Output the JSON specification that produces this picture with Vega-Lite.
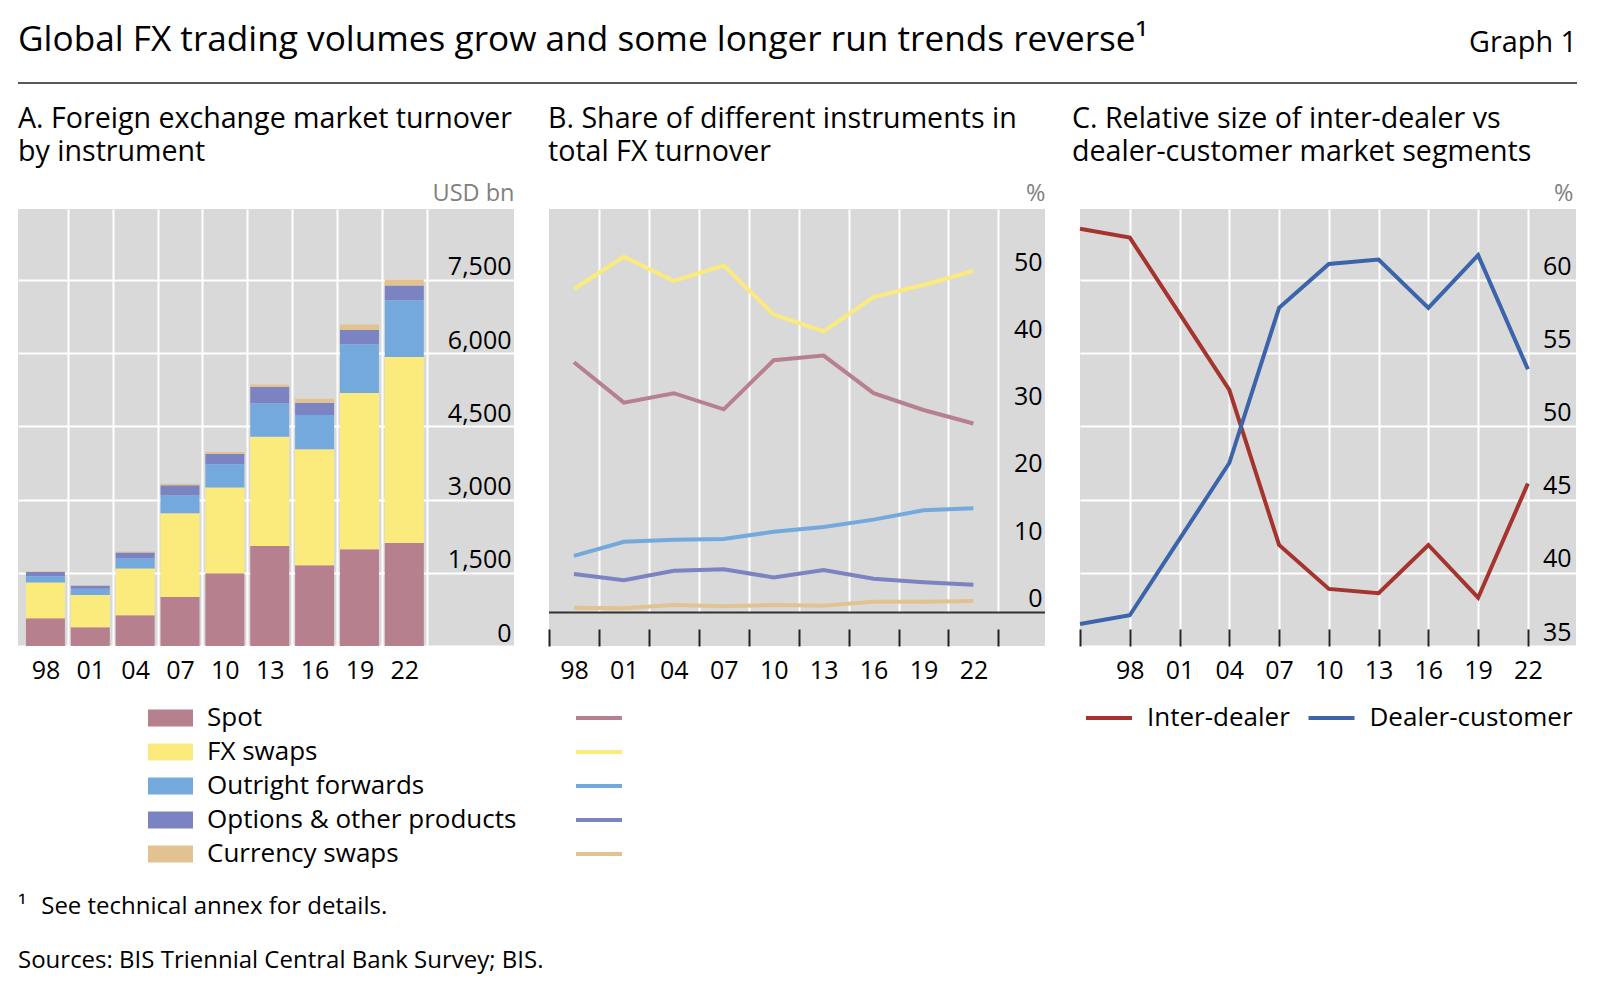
{
  "$schema": "https://vega.github.io/schema/vega-lite/v6.json",
  "background": "white",
  "padding": {"left": 18, "top": 23, "right": 10, "bottom": 0},
  "config": {
    "font": "Open Sans",
    "view": {"fill": "#d9d9d9", "stroke": null},
    "axis": {"labelFont": "Open Sans", "labelFontSize": 25, "labelColor": "#000", "titleFont": "Open Sans", "domain": false, "gridColor": "white", "gridWidth": 2, "gridOpacity": 1, "labelFlush": false, "labelOverlap": false, "labelBound": false},
    "title": {"font": "Open Sans", "fontWeight": "normal", "color": "#000", "anchor": "start"},
    "legend": {"labelFont": "Open Sans", "labelFontSize": 26, "labelColor": "#000", "labelLimit": 400}
  },
  "title": {"text": "Global FX trading volumes grow and some longer run trends reverse¹", "fontSize": 35.2, "offset": -29},
  "datasets": {
    "turnover": [
      {"year": 1998, "instrument": "Spot", "value": 568},
      {"year": 1998, "instrument": "FX swaps", "value": 734},
      {"year": 1998, "instrument": "Outright forwards", "value": 128},
      {"year": 1998, "instrument": "Options & other products", "value": 87},
      {"year": 1998, "instrument": "Currency swaps", "value": 10},
      {"year": 2001, "instrument": "Spot", "value": 386},
      {"year": 2001, "instrument": "FX swaps", "value": 656},
      {"year": 2001, "instrument": "Outright forwards", "value": 130},
      {"year": 2001, "instrument": "Options & other products", "value": 60},
      {"year": 2001, "instrument": "Currency swaps", "value": 7},
      {"year": 2004, "instrument": "Spot", "value": 631},
      {"year": 2004, "instrument": "FX swaps", "value": 954},
      {"year": 2004, "instrument": "Outright forwards", "value": 209},
      {"year": 2004, "instrument": "Options & other products", "value": 119},
      {"year": 2004, "instrument": "Currency swaps", "value": 21},
      {"year": 2007, "instrument": "Spot", "value": 1005},
      {"year": 2007, "instrument": "FX swaps", "value": 1714},
      {"year": 2007, "instrument": "Outright forwards", "value": 362},
      {"year": 2007, "instrument": "Options & other products", "value": 212},
      {"year": 2007, "instrument": "Currency swaps", "value": 31},
      {"year": 2010, "instrument": "Spot", "value": 1489},
      {"year": 2010, "instrument": "FX swaps", "value": 1759},
      {"year": 2010, "instrument": "Outright forwards", "value": 475},
      {"year": 2010, "instrument": "Options & other products", "value": 207},
      {"year": 2010, "instrument": "Currency swaps", "value": 43},
      {"year": 2013, "instrument": "Spot", "value": 2047},
      {"year": 2013, "instrument": "FX swaps", "value": 2240},
      {"year": 2013, "instrument": "Outright forwards", "value": 679},
      {"year": 2013, "instrument": "Options & other products", "value": 337},
      {"year": 2013, "instrument": "Currency swaps", "value": 54},
      {"year": 2016, "instrument": "Spot", "value": 1652},
      {"year": 2016, "instrument": "FX swaps", "value": 2378},
      {"year": 2016, "instrument": "Outright forwards", "value": 700},
      {"year": 2016, "instrument": "Options & other products", "value": 254},
      {"year": 2016, "instrument": "Currency swaps", "value": 82},
      {"year": 2019, "instrument": "Spot", "value": 1979},
      {"year": 2019, "instrument": "FX swaps", "value": 3202},
      {"year": 2019, "instrument": "Outright forwards", "value": 999},
      {"year": 2019, "instrument": "Options & other products", "value": 294},
      {"year": 2019, "instrument": "Currency swaps", "value": 108},
      {"year": 2022, "instrument": "Spot", "value": 2107},
      {"year": 2022, "instrument": "FX swaps", "value": 3810},
      {"year": 2022, "instrument": "Outright forwards", "value": 1163},
      {"year": 2022, "instrument": "Options & other products", "value": 304},
      {"year": 2022, "instrument": "Currency swaps", "value": 124}
    ],
    "shares": [
      {"year": 1998, "instrument": "Spot", "share": 37.2},
      {"year": 2001, "instrument": "Spot", "share": 31.2},
      {"year": 2004, "instrument": "Spot", "share": 32.6},
      {"year": 2007, "instrument": "Spot", "share": 30.2},
      {"year": 2010, "instrument": "Spot", "share": 37.5},
      {"year": 2013, "instrument": "Spot", "share": 38.2},
      {"year": 2016, "instrument": "Spot", "share": 32.6},
      {"year": 2019, "instrument": "Spot", "share": 30.1},
      {"year": 2022, "instrument": "Spot", "share": 28.1},
      {"year": 1998, "instrument": "FX swaps", "share": 48.1},
      {"year": 2001, "instrument": "FX swaps", "share": 52.9},
      {"year": 2004, "instrument": "FX swaps", "share": 49.3},
      {"year": 2007, "instrument": "FX swaps", "share": 51.6},
      {"year": 2010, "instrument": "FX swaps", "share": 44.3},
      {"year": 2013, "instrument": "FX swaps", "share": 41.8},
      {"year": 2016, "instrument": "FX swaps", "share": 46.9},
      {"year": 2019, "instrument": "FX swaps", "share": 48.7},
      {"year": 2022, "instrument": "FX swaps", "share": 50.8},
      {"year": 1998, "instrument": "Outright forwards", "share": 8.4},
      {"year": 2001, "instrument": "Outright forwards", "share": 10.5},
      {"year": 2004, "instrument": "Outright forwards", "share": 10.8},
      {"year": 2007, "instrument": "Outright forwards", "share": 10.9},
      {"year": 2010, "instrument": "Outright forwards", "share": 12.0},
      {"year": 2013, "instrument": "Outright forwards", "share": 12.7},
      {"year": 2016, "instrument": "Outright forwards", "share": 13.8},
      {"year": 2019, "instrument": "Outright forwards", "share": 15.2},
      {"year": 2022, "instrument": "Outright forwards", "share": 15.5},
      {"year": 1998, "instrument": "Options & other products", "share": 5.7},
      {"year": 2001, "instrument": "Options & other products", "share": 4.8},
      {"year": 2004, "instrument": "Options & other products", "share": 6.2},
      {"year": 2007, "instrument": "Options & other products", "share": 6.4},
      {"year": 2010, "instrument": "Options & other products", "share": 5.2},
      {"year": 2013, "instrument": "Options & other products", "share": 6.3},
      {"year": 2016, "instrument": "Options & other products", "share": 5.0},
      {"year": 2019, "instrument": "Options & other products", "share": 4.5},
      {"year": 2022, "instrument": "Options & other products", "share": 4.1},
      {"year": 1998, "instrument": "Currency swaps", "share": 0.7},
      {"year": 2001, "instrument": "Currency swaps", "share": 0.6},
      {"year": 2004, "instrument": "Currency swaps", "share": 1.1},
      {"year": 2007, "instrument": "Currency swaps", "share": 0.9},
      {"year": 2010, "instrument": "Currency swaps", "share": 1.1},
      {"year": 2013, "instrument": "Currency swaps", "share": 1.0},
      {"year": 2016, "instrument": "Currency swaps", "share": 1.6},
      {"year": 2019, "instrument": "Currency swaps", "share": 1.6},
      {"year": 2022, "instrument": "Currency swaps", "share": 1.7}
    ],
    "segments": [
      {"year": 1995, "segment": "Inter-dealer", "share": 63.5},
      {"year": 1998, "segment": "Inter-dealer", "share": 62.9},
      {"year": 2001, "segment": "Inter-dealer", "share": 57.7},
      {"year": 2004, "segment": "Inter-dealer", "share": 52.5},
      {"year": 2007, "segment": "Inter-dealer", "share": 41.9},
      {"year": 2010, "segment": "Inter-dealer", "share": 38.9},
      {"year": 2013, "segment": "Inter-dealer", "share": 38.6},
      {"year": 2016, "segment": "Inter-dealer", "share": 41.9},
      {"year": 2019, "segment": "Inter-dealer", "share": 38.3},
      {"year": 2022, "segment": "Inter-dealer", "share": 46.1},
      {"year": 1995, "segment": "Dealer-customer", "share": 36.5},
      {"year": 1998, "segment": "Dealer-customer", "share": 37.1},
      {"year": 2001, "segment": "Dealer-customer", "share": 42.3},
      {"year": 2004, "segment": "Dealer-customer", "share": 47.5},
      {"year": 2007, "segment": "Dealer-customer", "share": 58.1},
      {"year": 2010, "segment": "Dealer-customer", "share": 61.1},
      {"year": 2013, "segment": "Dealer-customer", "share": 61.4},
      {"year": 2016, "segment": "Dealer-customer", "share": 58.1},
      {"year": 2019, "segment": "Dealer-customer", "share": 61.7},
      {"year": 2022, "segment": "Dealer-customer", "share": 53.9}
    ]
  },
  "spacing": 21,
  "vconcat": [
    {
      "width": 1559, "height": 2,
      "view": {"fill": "#595959", "stroke": null},
      "title": {"text": "Graph 1", "anchor": "end", "fontSize": 28.8, "offset": 24},
      "data": {"values": []},
      "mark": "point",
      "encoding": {}
    },
    {
      "hconcat": [
        {
          "width": 496, "height": 437,
          "title": {"text": ["A. Foreign exchange market turnover", "by instrument"], "fontSize": 28.6, "lineHeight": 33, "offset": 14},
          "data": {"name": "turnover"},
          "transform": [{"calculate": "indexof(['Spot','FX swaps','Outright forwards','Options & other products','Currency swaps'], datum.instrument)", "as": "stackOrder"}],
          "mark": {"type": "bar", "width": 39},
          "encoding": {
            "x": {
              "field": "year", "type": "quantitative",
              "scale": {"domain": [1996.5, 2029], "nice": false, "zero": false},
              "axis": {
                "title": null, "ticks": false, "labelPadding": 12,
                "values": [1998, 1999.5, 2001, 2002.5, 2004, 2005.5, 2007, 2008.5, 2010, 2011.5, 2013, 2014.5, 2016, 2017.5, 2019, 2020.5, 2022, 2023.5],
                "labelExpr": "datum.value % 3 == 0 ? slice(toString(datum.value), 2) : ''",
                "gridOpacity": {"condition": {"test": "datum.value % 3 == 0", "value": 0}, "value": 1}
              }
            },
            "y": {
              "field": "value", "type": "quantitative", "stack": "zero",
              "scale": {"domain": [0, 8950], "nice": false},
              "axis": {
                "orient": "right", "values": [0, 1500, 3000, 4500, 6000, 7500], "format": ",.0f",
                "ticks": false, "labelAlign": "right", "labelPadding": -3, "labelBaseline": "alphabetic", "labelOffset": -5,
                "title": "USD bn", "titleAngle": 0, "titleAlign": "right", "titleBaseline": "alphabetic", "titleX": 0, "titleY": -9,
                "titleFontSize": 23.5, "titleColor": "#808080", "titleFontWeight": "normal"
              }
            },
            "color": {
              "field": "instrument", "type": "nominal",
              "scale": {"domain": ["Spot", "FX swaps", "Outright forwards", "Options & other products", "Currency swaps"], "range": ["#b7808f", "#fbeb7c", "#74a9de", "#7b83c2", "#e2c290"]},
              "legend": {"title": null, "orient": "none", "legendX": 127, "legendY": 489, "padding": 3, "symbolType": "M-1,-0.38L1,-0.38L1,0.38L-1,0.38Z", "symbolSize": 2025, "symbolStrokeWidth": 0, "labelOffset": 14, "clipHeight": 34, "rowPadding": 0}
            },
            "order": {"field": "stackOrder"}
          }
        },
        {
          "width": 496, "height": 437,
          "title": {"text": ["B. Share of different instruments in", "total FX turnover"], "fontSize": 28.6, "lineHeight": 33, "offset": 14},
          "layer": [
            {
              "data": {"values": [{}]},
              "mark": {"type": "rect", "color": "#d9d9d9"},
              "encoding": {"y": {"datum": -5, "type": "quantitative"}, "y2": {"datum": 0}}
            },
            {
              "data": {"name": "shares"},
              "mark": {"type": "line", "strokeWidth": 4},
              "encoding": {
                "x": {
                  "field": "year", "type": "quantitative",
                  "scale": {"domain": [1996.5, 2026.3], "nice": false, "zero": false},
                  "axis": {
                    "orient": "bottom", "title": null, "labels": false, "ticks": false, "grid": true, "zindex": 0,
                    "values": [1999.5, 2002.5, 2005.5, 2008.5, 2011.5, 2014.5, 2017.5, 2020.5, 2023.5]
                  }
                },
                "y": {
                  "field": "share", "type": "quantitative",
                  "scale": {"domain": [-5, 60], "nice": false, "zero": false},
                  "axis": {
                    "orient": "right", "values": [0, 10, 20, 30, 40, 50],
                    "ticks": false, "labelAlign": "right", "labelPadding": -3, "labelBaseline": "alphabetic", "labelOffset": -6,
                    "title": "%", "titleAngle": 0, "titleAlign": "right", "titleBaseline": "alphabetic", "titleX": 0, "titleY": -9,
                    "titleFontSize": 23.5, "titleColor": "#808080", "titleFontWeight": "normal"
                  }
                },
                "color": {
                  "field": "instrument", "type": "nominal",
                  "scale": {"domain": ["Spot", "FX swaps", "Outright forwards", "Options & other products", "Currency swaps"], "range": ["#b7808f", "#fbeb7c", "#74a9de", "#7b83c2", "#e2c290"]},
                  "legend": {"title": null, "orient": "none", "legendX": 22, "legendY": 489, "padding": 3, "symbolType": "stroke", "symbolSize": 2116, "symbolStrokeWidth": 4, "labelExpr": "''", "clipHeight": 34, "rowPadding": 0}
                }
              }
            },
            {
              "data": {"values": [{}]},
              "mark": {"type": "rule", "color": "#333", "strokeWidth": 2},
              "encoding": {"y": {"datum": 0, "type": "quantitative"}}
            },
            {
              "data": {"values": []},
              "mark": "point",
              "encoding": {
                "x": {
                  "field": "year", "type": "quantitative",
                  "scale": {"domain": [1996.5, 2026.3], "nice": false, "zero": false},
                  "axis": {
                    "orient": "bottom", "title": null, "grid": false, "zindex": 1,
                    "tickSize": -17, "tickColor": "#222", "tickWidth": 2, "labelPadding": 29,
                    "values": [1996.5, 1998, 1999.5, 2001, 2002.5, 2004, 2005.5, 2007, 2008.5, 2010, 2011.5, 2013, 2014.5, 2016, 2017.5, 2019, 2020.5, 2022, 2023.5],
                    "labelExpr": "datum.value % 3 == 0 ? slice(toString(datum.value), 2) : ''",
                    "tickOpacity": {"condition": {"test": "datum.value % 3 == 0", "value": 0}, "value": 1}
                  }
                }
              }
            }
          ],
          "resolve": {"axis": {"x": "independent"}}
        },
        {
          "width": 496, "height": 437,
          "title": {"text": ["C. Relative size of inter-dealer vs", "dealer-customer market segments"], "fontSize": 28.6, "lineHeight": 33, "offset": 14},
          "data": {"name": "segments"},
          "mark": {"type": "line", "strokeWidth": 4},
          "encoding": {
            "x": {
              "field": "year", "type": "quantitative",
              "scale": {"domain": [1995, 2024.9], "nice": false, "zero": false},
              "axis": {
                "title": null, "tickSize": -17, "tickColor": "#222", "tickWidth": 2, "labelPadding": 29,
                "values": [1995, 1998, 2001, 2004, 2007, 2010, 2013, 2016, 2019, 2022],
                "labelExpr": "datum.value == 1995 ? '' : slice(toString(datum.value), 2)",
                "gridOpacity": {"condition": {"test": "datum.value == 1995", "value": 0}, "value": 1}
              }
            },
            "y": {
              "field": "share", "type": "quantitative",
              "scale": {"domain": [35, 64.85], "nice": false, "zero": false},
              "axis": {
                "orient": "right", "values": [35, 40, 45, 50, 55, 60],
                "ticks": false, "labelAlign": "right", "labelPadding": -5, "labelBaseline": "alphabetic", "labelOffset": -6,
                "title": "%", "titleAngle": 0, "titleAlign": "right", "titleBaseline": "alphabetic", "titleX": -3, "titleY": -9,
                "titleFontSize": 23.5, "titleColor": "#808080", "titleFontWeight": "normal"
              }
            },
            "color": {
              "field": "segment", "type": "nominal",
              "scale": {"domain": ["Inter-dealer", "Dealer-customer"], "range": ["#a5342f", "#3c64ab"]},
              "legend": {"title": null, "orient": "none", "direction": "horizontal", "legendX": 1, "legendY": 489, "padding": 3, "symbolType": "stroke", "symbolSize": 2116, "symbolStrokeWidth": 4, "labelOffset": 13, "columnPadding": 16.5, "clipHeight": 34}
            }
          }
        }
      ],
      "spacing": 35,
      "bounds": "flush",
      "resolve": {"scale": {"color": "independent"}, "legend": {"color": "independent"}}
    },
    {
      "width": 1559, "height": 0,
      "view": {"fill": null, "stroke": null},
      "title": {"text": "¹\u00a0\u00a0\u200aSee technical annex for details.", "subtitle": "Sources: BIS Triennial Central Bank Survey; BIS.", "fontSize": 24, "subtitleFont": "Open Sans", "subtitleFontSize": 24, "subtitleColor": "#000", "subtitlePadding": 30, "offset": 10},
      "data": {"values": []},
      "mark": "point",
      "encoding": {}
    }
  ]
}
